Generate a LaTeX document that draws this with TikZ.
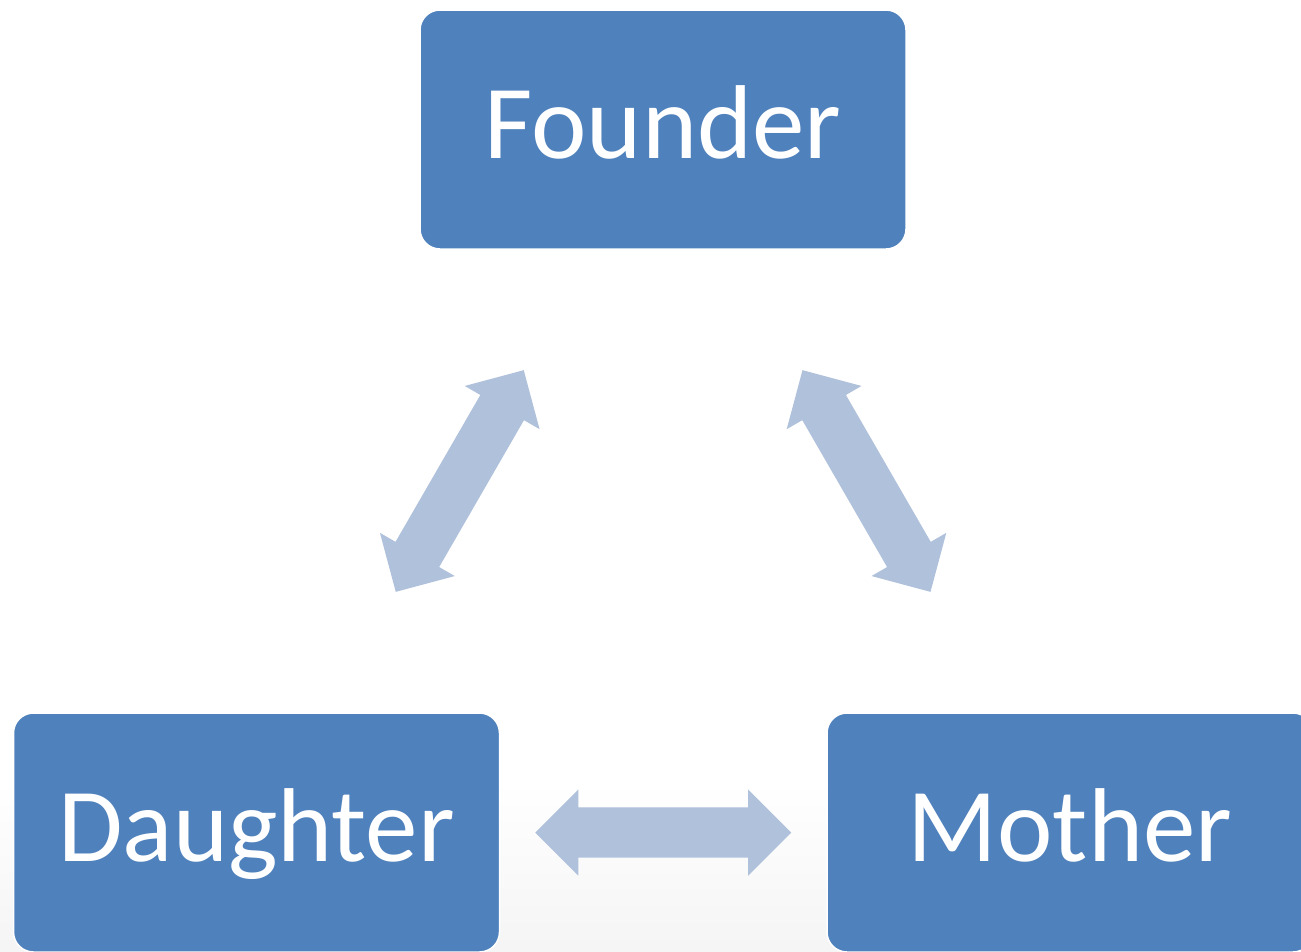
\documentclass[tikz,border=0pt]{standalone}
\usepackage{fontspec}
\setmainfont{Carlito}
\usetikzlibrary{shapes, arrows, calc, positioning}
\definecolor{boxblue}{HTML}{4F81BD}
\definecolor{linkblue}{HTML}{B0C1DC}

\begin{document}
\begin{tikzpicture}[x=1pt, y=-1pt,
        box/.style={draw=white, line width=1.5pt, fill=boxblue, rounded corners=20pt,
            minimum width=486pt, minimum height=239pt, text=white,
            font=\fontsize{105}{105}\selectfont, text height=57pt, text depth=0pt},
        link/.style={double arrow, fill=linkblue, inner xsep=0pt, inner ysep=25pt,
            minimum height=256pt, minimum width=86pt, double arrow head extend=18pt}]
        \useasboundingbox (0, 0) rectangle (1301, 951);
        \clip (0, 0) rectangle (1301, 951);
        \fill[top color=white, bottom color=black!4] (0, 780) rectangle (1301, 951);

        \node[box] (founder) at (663, 129.5) {Founder};
        \node[box] (daughter) at (256.5, 832.5) {Daughter};
        \node[box, right=326 of daughter] (mother) {Mother};

        \node[link, rotate=60] (fd) at ($(founder)!0.5!(daughter)$) {};
        \node[link, rotate=-60] (fm) at ($(founder)!0.5!(mother)$) {};
        \node[link] (dm) at ($(daughter)!0.5!(mother)$) {};
    \end{tikzpicture}
\end{document}
